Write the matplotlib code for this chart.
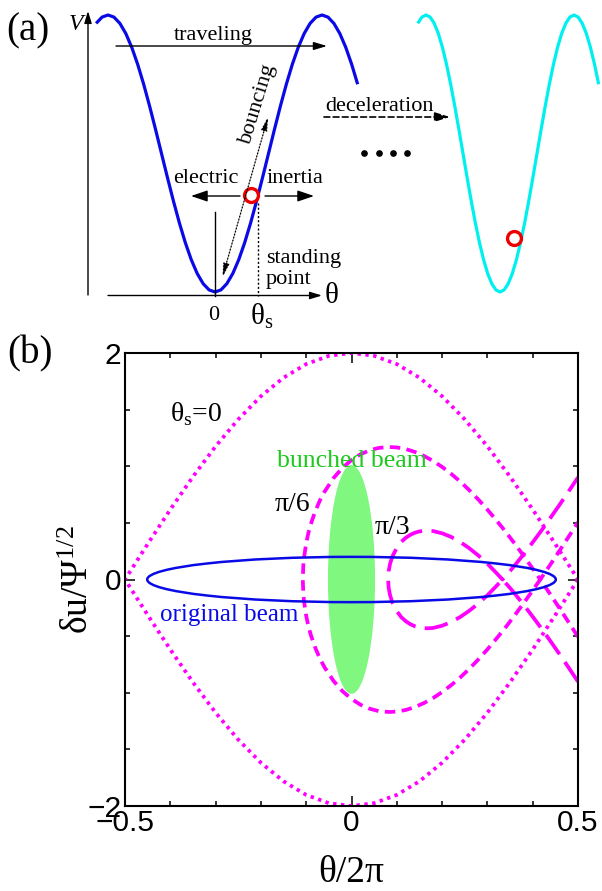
import numpy as np
import matplotlib
matplotlib.use("Agg")
import matplotlib.pyplot as plt
from matplotlib.patches import Ellipse
from matplotlib.ticker import MultipleLocator

plt.rcParams["font.family"] = ["Liberation Serif", "DejaVu Serif"]

# --- panel (a): normalised depth of the potential well, every 10 deg from -20 to 420
well_phase = np.arange(-20, 421, 10)
well_depth = [0.0302, 0.0076, 0.0,
              0.0076, 0.0302, 0.0670, 0.1170, 0.1786, 0.25, 0.3290, 0.4132, 0.5,
              0.5868, 0.6710, 0.75, 0.8214, 0.8830, 0.9330, 0.9698, 0.9924, 1.0,
              0.9924, 0.9698, 0.9330, 0.8830, 0.8214, 0.75, 0.6710, 0.5868, 0.5,
              0.4132, 0.3290, 0.25, 0.1786, 0.1170, 0.0670, 0.0302, 0.0076, 0.0,
              0.0076, 0.0302, 0.0670, 0.1170, 0.1786, 0.25]

# --- panel (b): separatrices, x = theta/2pi, y = du/Psi^1/2 (upper half)
sep0_x = [-0.5, -0.45, -0.4, -0.35, -0.3, -0.25, -0.2, -0.15, -0.1, -0.05, 0.0,
          0.05, 0.1, 0.15, 0.2, 0.25, 0.3, 0.35, 0.4, 0.45, 0.5]
sep0_y = [0.0, 0.313, 0.618, 0.908, 1.176, 1.414, 1.618, 1.782, 1.902, 1.975, 2.0,
          1.975, 1.902, 1.782, 1.618, 1.414, 1.176, 0.908, 0.618, 0.313, 0.0]

sep6_x = [-0.1075, -0.1065, -0.105, -0.10, -0.095, -0.09, -0.08, -0.07, -0.06,
          -0.04, -0.02, 0.0, 0.02, 0.04, 0.06, 0.083, 0.10, 0.12, 0.14, 0.16,
          0.18, 0.20, 0.22, 0.24, 0.26, 0.28, 0.30, 0.32, 0.34, 0.36, 0.38,
          0.40, 0.4167, 0.44, 0.46, 0.48, 0.50]
sep6_y = [0.0, 0.116, 0.185, 0.322, 0.414, 0.487, 0.603, 0.696, 0.772,
          0.894, 0.986, 1.055, 1.106, 1.141, 1.162, 1.170, 1.166, 1.152, 1.126, 1.091,
          1.047, 0.994, 0.933, 0.865, 0.789, 0.706, 0.617, 0.522, 0.423, 0.318, 0.209,
          0.096, 0.0, 0.138, 0.259, 0.382, 0.506]

sep3_x = [0.0809, 0.082, 0.085, 0.09, 0.10, 0.11, 0.12, 0.13, 0.14, 0.15, 0.1667,
          0.18, 0.20, 0.22, 0.24, 0.26, 0.28, 0.30, 0.32, 0.3333, 0.35, 0.36, 0.38,
          0.40, 0.42, 0.44, 0.46, 0.48, 0.50]
sep3_y = [0.0, 0.072, 0.137, 0.201, 0.280, 0.333, 0.369, 0.395, 0.413, 0.425, 0.431,
          0.428, 0.408, 0.376, 0.331, 0.276, 0.212, 0.139, 0.057, 0.0, 0.075, 0.123, 0.223,
          0.328, 0.436, 0.549, 0.664, 0.782, 0.902]

# beams: centre x, centre y, half width, half height
orig_beam = (0.0, 0.0, 0.451, 0.2)
bunched_beam = (0.0, 0.0, 0.052, 1.01)

MAGENTA = "#ff00ff"
BLUE = "#0a0ae6"

fig = plt.figure(figsize=(6.02, 8.91), dpi=100)

# ---------------- panel (a), drawn in pixel coordinates
ax_a = fig.add_axes([0, 0, 1, 1])
ax_a.set_xlim(0, 602)
ax_a.set_ylim(891, 0)
ax_a.axis("off")


def well(x_peak, period):
    xs = x_peak + well_phase / 360 * period
    ys = 15 + np.asarray(well_depth) * 277
    return xs, ys


def arrow(x0, y0, x1, y1, hl=0.5, hw=0.17, lw=1.0, ls="-", style="-|>"):
    ax_a.annotate("", xy=(x1, y1), xytext=(x0, y0),
                  arrowprops=dict(arrowstyle=f"{style},head_length={hl},head_width={hw}",
                                  lw=lw, ls=ls, color="k", shrinkA=0, shrinkB=0,
                                  mutation_scale=20))


ax_a.plot(*well(108, 214), color=BLUE, lw=2.3, solid_capstyle="butt")
ax_a.plot(*well(426, 148), color="#00f0f0", lw=2.3, solid_capstyle="butt")

arrow(88, 295, 88, 11, hl=0.36, hw=0.11)
arrow(108, 295.5, 322, 295.5, hl=0.36, hw=0.11)
arrow(116, 46, 327, 46, hl=0.4, hw=0.12)
arrow(240, 196, 191, 196)
arrow(265, 196, 314, 196)
arrow(268, 117, 222.5, 277, hl=0.4, hw=0.09, lw=0.9, ls=(0, (1, 1.5)), style="<|-|>")
arrow(324, 117, 450, 117, hl=0.45, hw=0.14, lw=1.2, ls=(0, (3.5, 2)))

ax_a.plot([215, 215], [212, 295.5], color="k", lw=1.0)
ax_a.plot([258, 258], [203, 295.5], color="k", lw=1.0, ls=(0, (1.5, 1.5)))

ax_a.plot([251], [195], "o", ms=10, mfc="white", mec="#ee0000", mew=2.4)
ax_a.plot([514], [238], "o", ms=10, mfc="white", mec="#ee0000", mew=2.4)
ax_a.plot([364, 379, 393, 407], [153] * 4, "o", ms=3.8, color="k")

ax_a.text(6, 31, "(a)", fontsize=28, ha="left", va="center")
ax_a.text(7, 354, "(b)", fontsize=28, ha="left", va="center")
ax_a.text(75.5, 24, "V", fontsize=17, style="italic", ha="center", va="center")
ax_a.text(332, 296, "θ", fontsize=21, ha="center", va="center")
ax_a.text(214, 316, "0", fontsize=16, ha="center", va="center")
ax_a.text(262, 316, "θ$_\\mathregular{s}$", fontsize=21, ha="center", va="center")
ax_a.text(213, 40, "traveling", fontsize=16, ha="center", va="baseline")
ax_a.text(206, 183, "electric", fontsize=16, ha="center", va="baseline")
ax_a.text(267, 183, "inertia", fontsize=16, ha="left", va="baseline")
ax_a.text(266, 263, "standing", fontsize=16, ha="left", va="baseline")
ax_a.text(266, 284, "point", fontsize=16, ha="left", va="baseline")
ax_a.text(380, 111, "deceleration", fontsize=16, ha="center", va="baseline")
ax_a.text(258, 104, "bouncing", fontsize=16, rotation=73, ha="center", va="center",
          rotation_mode="anchor")

# ---------------- panel (b)
ax = fig.add_axes([125 / 602, 85 / 891, 453 / 602, 453 / 891])

cx, cy, hw_, hh_ = bunched_beam
ax.add_patch(Ellipse((cx, cy), 2 * hw_, 2 * hh_, facecolor="#80f880", edgecolor="none", zorder=1))


def closed(xs, ys):
    xs = np.asarray(xs)
    ys = np.asarray(ys)
    return np.r_[xs[::-1], xs], np.r_[-ys[::-1], ys]


ax.plot(*closed(sep0_x, sep0_y), color=MAGENTA, lw=2.7, ls=(0, (0.9, 1.2)), zorder=2)
ax.plot(*closed(sep6_x, sep6_y), color=MAGENTA, lw=2.7, ls=(0, (2.8, 1.7)), zorder=2)
ax.plot(*closed(sep3_x, sep3_y), color=MAGENTA, lw=2.7, ls=(0, (6.3, 2.5)), zorder=2)

cx, cy, hw_, hh_ = orig_beam
ax.add_patch(Ellipse((cx, cy), 2 * hw_, 2 * hh_, facecolor="none", edgecolor=BLUE, lw=1.8, zorder=3))

ax.text(-0.401, 1.40, "θ$_\\mathregular{s}$=0", fontsize=20, ha="left", va="baseline")
ax.text(0.0, 0.99, "bunched beam", fontsize=18.5, color="#1ec81e", ha="center", va="baseline", zorder=4)
ax.text(-0.169, 0.605, "π/6", fontsize=20, ha="left", va="baseline")
ax.text(0.052, 0.402, "π/3", fontsize=20, ha="left", va="baseline")
ax.text(-0.423, -0.37, "original beam", fontsize=18, color=BLUE, ha="left", va="baseline")

ax.set_xlim(-0.5, 0.5)
ax.set_ylim(-2, 2)
ax.set_xticks([-0.5, 0, 0.5])
ax.set_yticks([-2, 0, 2])
ax.set_xticklabels(["−0.5", "0", "0.5"])
ax.set_yticklabels(["−2", "0", "2"])
ax.xaxis.set_minor_locator(MultipleLocator(0.1))
ax.yaxis.set_minor_locator(MultipleLocator(0.5))
ax.tick_params(which="both", direction="in", top=True, right=True, width=1.1)
ax.tick_params(which="major", length=7, pad=2.5, labelsize=21.5, labelfontfamily="Liberation Sans")
ax.tick_params(which="minor", length=3.6)
for s in ax.spines.values():
    s.set_linewidth(1.5)

ax.set_xlabel("θ/2π", fontsize=27)
ax.set_ylabel("$\\mathregular{δu/Ψ^{1/2}}$", fontsize=27)
ax.xaxis.set_label_coords(0.5, -0.11)
ax.yaxis.set_label_coords(-0.064, 0.5)

fig.savefig("out.png", dpi=100, facecolor="white")
